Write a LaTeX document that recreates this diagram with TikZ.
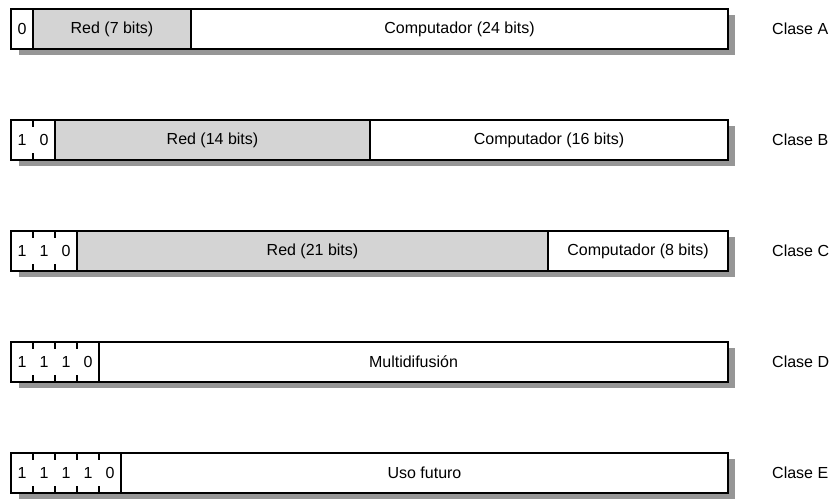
\documentclass[tikz,border=0pt]{standalone}
\usepackage{fontspec}
\setmainfont{Liberation Sans}
\usetikzlibrary{positioning,calc,backgrounds}
\definecolor{redgray}{RGB}{212,212,212}
\definecolor{shadegray}{RGB}{150,150,150}

\begin{document}
\begin{tikzpicture}[
      x=1pt, y=1pt, font=\fontsize{16}{19}\selectfont,
      field/.style={draw, line width=2pt, minimum height=40pt, inner sep=0pt,
                    outer sep=0pt, anchor=west},
      bitcell/.style={fill=white, minimum width=22pt, minimum height=40pt,
                      inner sep=0pt, outer sep=0pt, anchor=west},
      netfield/.style={field, fill=redgray},
      hostfield/.style={field, fill=white},
      frame/.style={draw, line width=2pt},
      tick/.style={draw, line width=1.2pt},
      shade/.style={fill=shadegray},
      clase/.style={inner sep=0pt, anchor=west},
    ]
    \useasboundingbox (0,0) rectangle (835,502);

    % Clase A
    \node[bitcell] (a1) at (11,473) {0};
    \node[netfield, minimum width=158pt, right=0pt of a1] (redA) {Red (7 bits)};
    \node[hostfield, minimum width=537pt, right=0pt of redA] (compA) {Computador (24 bits)};
    \draw[frame] (a1.south west) rectangle (a1.north east);
    \node[clase, right=44pt of compA] (clA) {Clase A};

    % Clase B
    \node[bitcell] (b1) at (11,362) {1};
    \node[bitcell, right=0pt of b1] (b2) {0};
    \node[netfield, minimum width=315pt, right=0pt of b2] (redB) {Red (14 bits)};
    \node[hostfield, minimum width=358pt, right=0pt of redB] (compB) {Computador (16 bits)};
    \draw[frame] (b1.south west) rectangle (b2.north east);
    \node[clase, right=44pt of compB] (clB) {Clase B};

    % Clase C
    \node[bitcell] (c1) at (11,251) {1};
    \node[bitcell, right=0pt of c1] (c2) {1};
    \node[bitcell, right=0pt of c2] (c3) {0};
    \node[netfield, minimum width=471pt, right=0pt of c3] (redC) {Red (21 bits)};
    \node[hostfield, minimum width=180pt, right=0pt of redC] (compC) {Computador (8 bits)};
    \draw[frame] (c1.south west) rectangle (c3.north east);
    \node[clase, right=44pt of compC] (clC) {Clase C};

    % Clase D
    \node[bitcell] (d1) at (11,140) {1};
    \node[bitcell, right=0pt of d1] (d2) {1};
    \node[bitcell, right=0pt of d2] (d3) {1};
    \node[bitcell, right=0pt of d3] (d4) {0};
    \node[hostfield, minimum width=629pt, right=0pt of d4] (multiD) {Multidifusión};
    \draw[frame] (d1.south west) rectangle (d4.north east);
    \node[clase, right=44pt of multiD] (clD) {Clase D};

    % Clase E
    \node[bitcell] (e1) at (11,29) {1};
    \node[bitcell, right=0pt of e1] (e2) {1};
    \node[bitcell, right=0pt of e2] (e3) {1};
    \node[bitcell, right=0pt of e3] (e4) {1};
    \node[bitcell, right=0pt of e4] (e5) {0};
    \node[hostfield, minimum width=607pt, right=0pt of e5] (usoE) {Uso futuro};
    \draw[frame] (e1.south west) rectangle (e5.north east);
    \node[clase, right=44pt of usoE] (clE) {Clase E};

    % short ticks between the leading bits
    \foreach \c in {b1,c1,c2,d1,d2,d3,e1,e2,e3,e4} {
      \draw[tick] (\c.north east) -- ++(0,-7);
      \draw[tick] (\c.south east) -- ++(0,7);
    }

    % drop shadows
    \begin{scope}[on background layer]
      \fill[shade] ($(a1.south west)+(8,-6)$) rectangle ($(compA.north east)+(7,-6)$);
      \fill[shade] ($(b1.south west)+(8,-6)$) rectangle ($(compB.north east)+(7,-6)$);
      \fill[shade] ($(c1.south west)+(8,-6)$) rectangle ($(compC.north east)+(7,-6)$);
      \fill[shade] ($(d1.south west)+(8,-6)$) rectangle ($(multiD.north east)+(7,-6)$);
      \fill[shade] ($(e1.south west)+(8,-6)$) rectangle ($(usoE.north east)+(7,-6)$);
    \end{scope}
  \end{tikzpicture}
\end{document}
